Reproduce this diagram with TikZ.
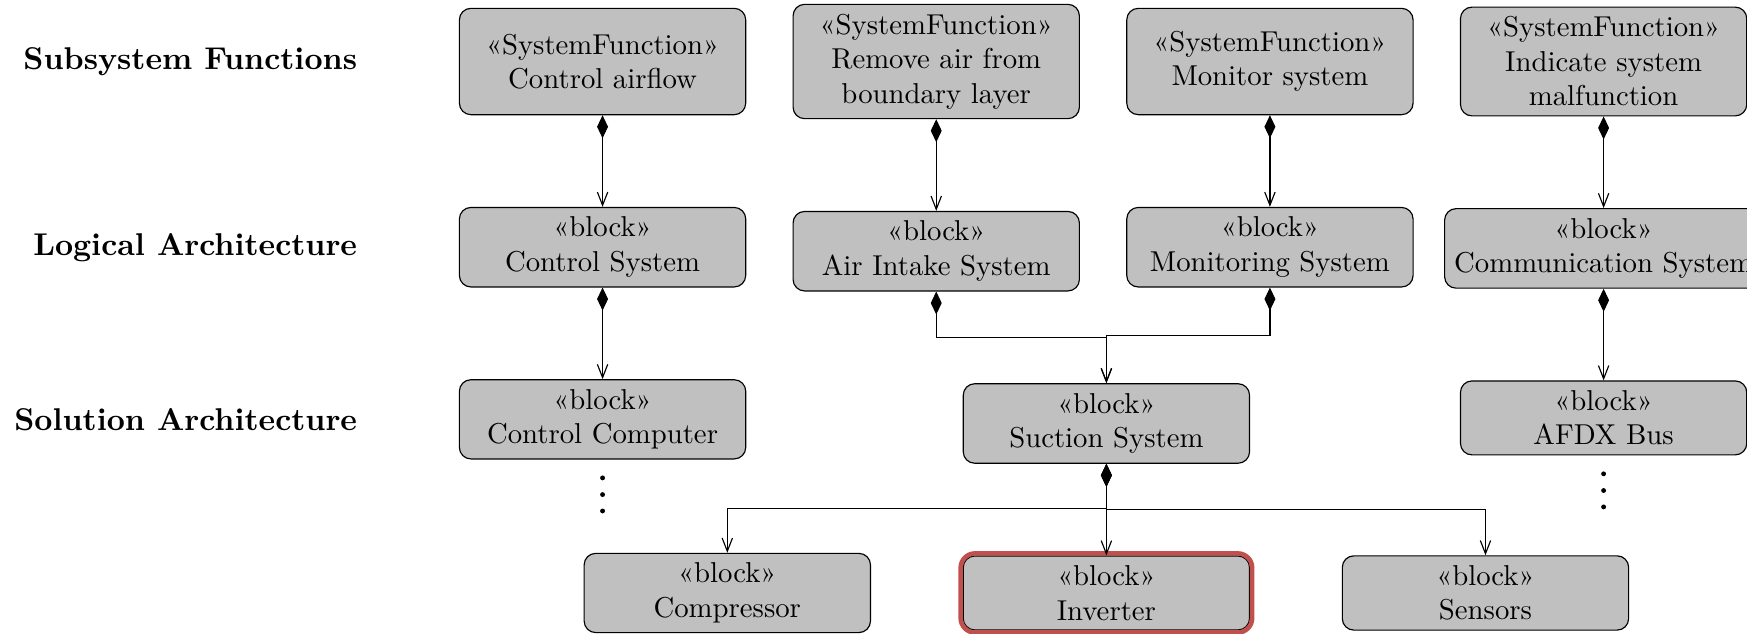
\documentclass[tikz,border=0pt]{standalone}
\usetikzlibrary{positioning,arrows.meta,calc,fit}
\definecolor{boxgray}{RGB}{192,192,192}
\definecolor{hilitered}{RGB}{192,80,77}

\tikzset{
  sysfun/.style={draw, fill=boxgray, rounded corners, align=center, minimum width=3.5cm, minimum height=1.3cm},
  block/.style={draw, fill=boxgray, rounded corners, align=center, minimum width=3.5cm},
  layer/.style={font=\fontsize{10.95pt}{13.6pt}\selectfont\bfseries},
  comp/.style={{Diamond[length=8pt,width=3.8pt]}-{Straight Barb[length=4.6pt,width=3.6pt]}},
  hilite/.style={draw=hilitered, line width=1.6pt, rounded corners=5pt, inner sep=0.7pt}
}

\begin{document}
\begin{tikzpicture}[node distance=1.12cm]
  \useasboundingbox (-7.366,0.752) rectangle (13.99,-6.987);

  % subsystem functions
  \node[sysfun] (ctrlairflow) {«SystemFunction»\\Control airflow};
  \node[sysfun, right=0.565cm of ctrlairflow] (removeair) {«SystemFunction»\\Remove air from\\boundary layer};
  \node[sysfun, right=0.565cm of removeair] (monitor) {«SystemFunction»\\Monitor system};
  \node[sysfun, right=0.565cm of monitor] (indicate) {«SystemFunction»\\Indicate system\\malfunction};

  % logical architecture
  \node[block, below=of ctrlairflow] (ctrlsys) {«block»\\Control System};
  \node[block, below=of removeair] (airintake) {«block»\\Air Intake System};
  \node[block, below=of monitor] (monsys) {«block»\\Monitoring System};
  \node[block, below=of indicate] (commsys) {«block»\\Communication System};

  % solution architecture
  \node[block, below=of ctrlsys] (ctrlcomp) {«block»\\Control Computer};
  \node[block, below=of airintake, xshift=2.08cm] (suction) {«block»\\Suction System};
  \node[block, below=of commsys] (afdx) {«block»\\AFDX Bus};
  \node[block, below=of suction] (inverter) {«block»\\Inverter};
  \node[block, left=of inverter] (compressor) {«block»\\Compressor};
  \node[block, right=of inverter] (sensors) {«block»\\Sensors};
  \node[hilite, fit=(inverter)] (invframe) {};

  % layer labels
  \node[layer, left=of ctrlairflow] (lblsub) {Subsystem Functions};
  \node[layer, left=of ctrlsys] (lbllog) {Logical Architecture};
  \node[layer, left=of ctrlcomp] (lblsol) {Solution Architecture};

  % composition links
  \draw[comp] (ctrlairflow) -- (ctrlsys);
  \draw[comp] (removeair) -- (airintake);
  \draw[comp] (monitor) -- (monsys);
  \draw[comp] (indicate) -- (commsys);
  \draw[comp] (ctrlsys) -- (ctrlcomp);
  \draw[comp] (commsys) -- (afdx);
  \draw[comp] (airintake.south) |- ($(airintake.south)!0.5!(suction.north)$) -| (suction.north);
  \draw[comp] (monsys.south) |- ($(monsys.south)!0.5!(suction.north)$) -| (suction.north);
  \draw[comp] (suction) -- (inverter);
  \draw[comp] (suction.south) |- ($(suction.south)!0.5!(compressor.north)$) -| (compressor.north);
  \draw[comp] (suction.south) |- ($(suction.south)!0.5!(sensors.north)$) -| (sensors.north);

  % continuation dots
  \foreach \d in {6.4pt,12.2pt,17.9pt} {
    \fill ([yshift=-\d]ctrlcomp.south) circle (0.85pt);
    \fill ([yshift=-\d]afdx.south) circle (0.85pt);
  }
\end{tikzpicture}
\end{document}
